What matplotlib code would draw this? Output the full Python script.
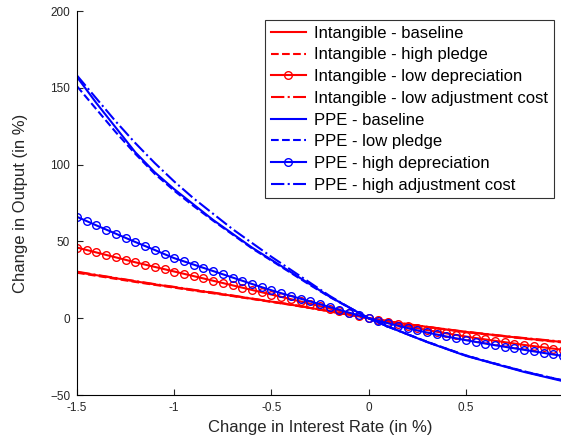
import numpy as np
import matplotlib
matplotlib.use("Agg")
import matplotlib.pyplot as plt

plt.rcParams['font.family'] = ['Liberation Sans', 'DejaVu Sans']

# x grid for the plain lines (step 0.1) and the marker lines (step 0.05)
x_line = np.round(np.arange(-1.5, 1.0001, 0.1), 2)
x_mark = np.round(np.arange(-1.5, 1.0001, 0.05), 2)

# Intangible
int_base = [30.0, 28.0, 26.0, 24.0, 22.0, 20.2, 18.3, 16.5, 14.6, 12.7, 10.8, 8.8, 6.7,
            4.5, 2.3, 0.0, -2.0, -3.9, -5.6, -7.3, -8.9, -10.3, -11.7, -13.1, -14.3, -15.5]
int_high_pledge = [29.6, 27.6, 25.6, 23.6, 21.7, 19.9, 18.0, 16.2, 14.4, 12.5, 10.6, 8.7, 6.6,
                   4.4, 2.2, 0.0, -2.0, -3.9, -5.7, -7.4, -9.0, -10.5, -11.9, -13.3, -14.6, -15.8]
int_low_adj = [30.3, 28.2, 26.2, 24.2, 22.2, 20.4, 18.5, 16.7, 14.8, 12.8, 10.9, 8.9, 6.8,
               4.6, 2.3, 0.0, -2.0, -3.9, -5.6, -7.2, -8.8, -10.2, -11.6, -12.9, -14.1, -15.3]
int_low_dep = [46.0, 44.4, 42.8, 41.2, 39.6, 38.0, 36.4, 34.9, 33.4, 31.9, 30.4, 28.9, 27.4,
               25.9, 24.4, 22.9, 21.4, 19.9, 18.4, 16.9, 15.4, 13.9, 12.4, 10.9, 9.4, 7.8,
               6.3, 4.7, 3.2, 1.6, 0.0, -1.4, -2.7, -4.0, -5.3, -6.5, -7.7, -8.8, -9.9,
               -10.9, -11.9, -12.9, -13.8, -14.7, -15.6, -16.5, -17.4, -18.2, -19.0, -19.8, -20.6]

# PPE
ppe_base = [157, 140, 124, 108, 95, 84, 74, 64, 55, 46, 38, 30, 22, 14, 7, 0,
            -5.5, -10.5, -15.5, -20, -24.5, -28, -31.5, -35, -38, -41]
ppe_low_pledge = [151, 136, 121, 107, 94, 83, 73, 63.5, 54.5, 45.5, 37.5, 29.5, 21.5, 13.8, 6.9, 0,
                  -5.4, -10.4, -15.3, -19.8, -24.2, -27.8, -31.2, -34.6, -37.6, -40.5]
ppe_high_adj = [158, 143, 128, 114, 101, 89, 78, 68, 58, 49, 40, 31.5, 23, 14.5, 7, 0,
                -5.5, -10.5, -15.4, -19.9, -24.3, -27.9, -31.3, -34.7, -37.7, -40.5]
ppe_high_dep = [66.0, 63.2, 60.4, 57.7, 55.0, 52.3, 49.6, 47.0, 44.4, 41.7, 39.1, 37.0, 34.9,
                32.8, 30.7, 28.6, 26.5, 24.4, 22.3, 20.2, 18.2, 16.3, 14.5, 12.7, 10.9, 9.1,
                7.3, 5.5, 3.6, 1.8, 0.0, -1.7, -3.3, -4.9, -6.4, -7.9, -9.3, -10.6, -11.9,
                -13.1, -14.3, -15.4, -16.5, -17.6, -18.6, -19.6, -20.6, -21.6, -22.6, -23.6, -24.6]

fig = plt.figure(figsize=(5.61, 4.41), dpi=100)
ax = fig.add_axes([0.1373, 0.1043, 0.8663, 0.8707])

lw = 1.5
ms = 5.5
ax.plot(x_line, int_base, color='red', lw=lw, label='Intangible - baseline')
ax.plot(x_line, int_high_pledge, color='red', lw=lw, ls='--', label='Intangible - high pledge')
ax.plot(x_mark, int_low_dep, color='red', lw=lw, marker='o', ms=ms, mfc='none', mew=1.0,
        label='Intangible - low depreciation')
ax.plot(x_line, int_low_adj, color='red', lw=lw, ls='-.', label='Intangible - low adjustment cost')
ax.plot(x_line, ppe_base, color='blue', lw=lw, label='PPE - baseline')
ax.plot(x_line, ppe_low_pledge, color='blue', lw=lw, ls='--', label='PPE - low pledge')
ax.plot(x_mark, ppe_high_dep, color='blue', lw=lw, marker='o', ms=ms, mfc='none', mew=1.0,
        label='PPE - high depreciation')
ax.plot(x_line, ppe_high_adj, color='blue', lw=lw, ls='-.', label='PPE - high adjustment cost')

ax.set_xlim(-1.5, 1)
ax.set_ylim(-50, 200)
ax.set_xticks([-1.5, -1, -0.5, 0, 0.5, 1])
ax.set_xticklabels(['-1.5', '-1', '-0.5', '0', '0.5', ''])
ax.set_yticks([-50, 0, 50, 100, 150, 200])
ax.tick_params(direction='in', labelsize=8.5, colors='#262626', length=4, pad=5)
ax.spines['top'].set_visible(False)
ax.spines['right'].set_visible(False)
ax.set_xlabel('Change in Interest Rate (in %)', fontsize=12, color='#262626', labelpad=4)
ax.set_ylabel('Change in Output (in %)', fontsize=12, color='#262626', labelpad=16)

leg = ax.legend(loc='upper right', bbox_to_anchor=(554 / 561, 1 - 20 / 441),
                bbox_transform=fig.transFigure, fontsize=12, frameon=True, fancybox=False,
                edgecolor='black', handlelength=2.1, handletextpad=0.5, labelspacing=0.4,
                borderpad=0.35, borderaxespad=0)
leg.get_frame().set_linewidth(0.8)

fig.savefig('out.png', dpi=100)
